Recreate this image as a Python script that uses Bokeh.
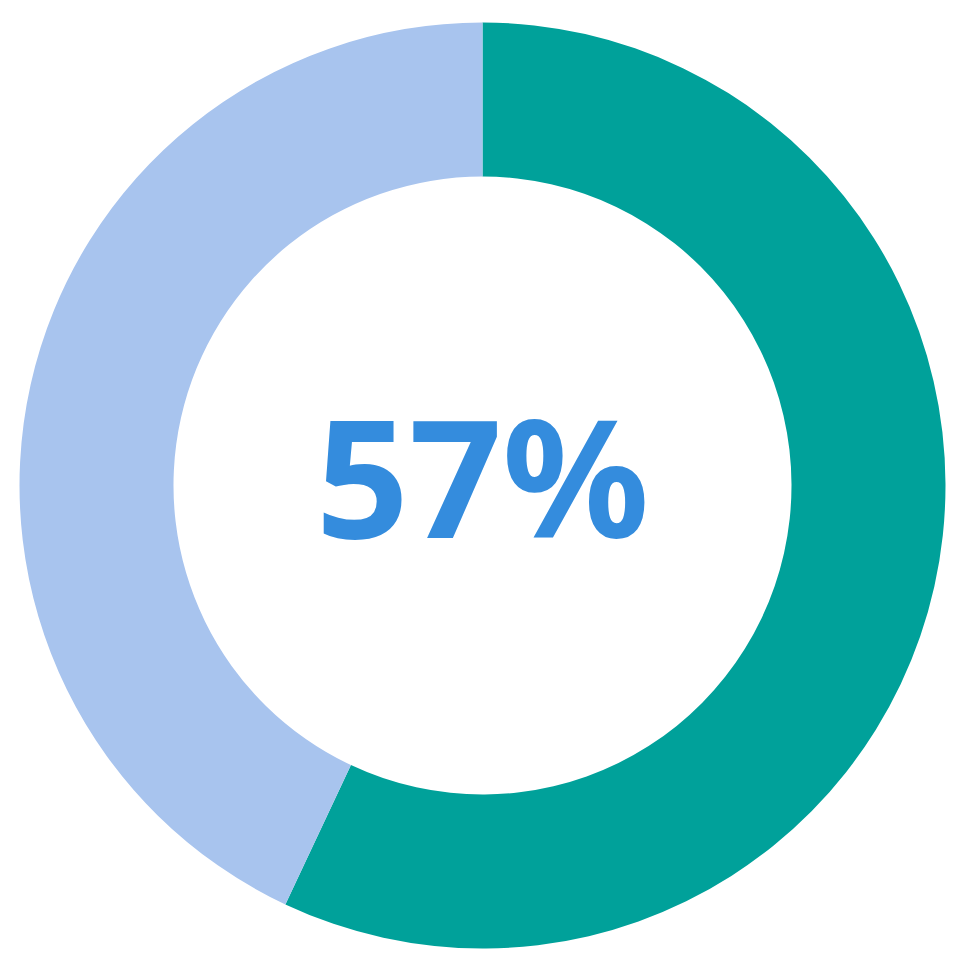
import math
from bokeh.plotting import figure
from bokeh.models import Range1d, ColumnDataSource
from bokeh.core.properties import value
from bokeh.embed import file_html
from bokeh.resources import INLINE

categories = ["Yes", "No"]
shares = [57, 43]
colors = ["#00A19A", "#A8C4EE"]
center_label = "57%"

total = sum(shares)
starts, ends = [], []
cur = math.pi / 2
for s in shares:
    ang = 2 * math.pi * s / total
    starts.append(cur - ang)
    ends.append(cur)
    cur -= ang

src = ColumnDataSource(dict(cat=categories, share=shares, color=colors,
                            start=starts, end=ends,
                            x=[0] * len(shares), y=[0] * len(shares)))

W = H = 955
p = figure(width=W, height=H, output_backend="svg", toolbar_location=None,
           x_range=Range1d(-482, 473), y_range=Range1d(-470, 485),
           min_border=0, match_aspect=False)
p.axis.visible = False
p.grid.visible = False
p.outline_line_color = None
p.background_fill_color = "white"
p.border_fill_color = "white"

p.annular_wedge(x="x", y="y", inner_radius=309, outer_radius=463,
                start_angle="start", end_angle="end", direction="anticlock",
                fill_color="color", line_color=None, source=src)

p.text(x=[0], y=[0], text=[center_label], text_align="center",
       text_baseline="middle", text_color="#348CDD",
       text_font=value("Noto Sans"), text_font_style="bold",
       text_font_size="163px", y_offset=-11)

open("out.html", "w").write(file_html(p, INLINE))
